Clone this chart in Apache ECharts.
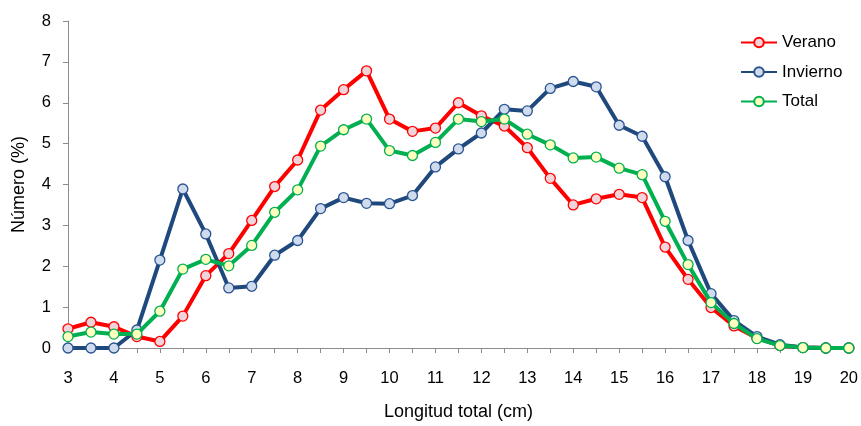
<!DOCTYPE html>
<html>
<head>
<meta charset="utf-8">
<script src="https://cdn.jsdelivr.net/npm/echarts@6/dist/echarts.min.js"></script>
<style>
  html, body { margin: 0; padding: 0; background: #ffffff; }
  #chart { width: 861px; height: 426px; }
</style>
</head>
<body>
<div id="chart"></div>
<script>
// Length classes (cm)
const longitudes = [3, 3.5, 4, 4.5, 5, 5.5, 6, 6.5, 7, 7.5, 8, 8.5, 9, 9.5, 10, 10.5, 11, 11.5,
  12, 12.5, 13, 13.5, 14, 14.5, 15, 15.5, 16, 16.5, 17, 17.5, 18, 18.5, 19, 19.5, 20];

// Frequency (%) per length class
const verano = [0.47, 0.63, 0.52, 0.28, 0.16, 0.78, 1.77, 2.31, 3.12, 3.95,
  4.60, 5.82, 6.32, 6.78, 5.60, 5.30, 5.38, 6.00, 5.68, 5.43,
  4.90, 4.15, 3.50, 3.65, 3.76, 3.68, 2.47, 1.68, 0.99, 0.54,
  0.24, 0.06, 0.01, 0, 0];
const invierno = [0, 0, 0, 0.44, 2.15, 3.89, 2.79, 1.47, 1.51, 2.27,
  2.63, 3.41, 3.68, 3.54, 3.53, 3.73, 4.43, 4.87, 5.26, 5.84,
  5.80, 6.35, 6.52, 6.39, 5.45, 5.18, 4.19, 2.63, 1.33, 0.67,
  0.28, 0.08, 0.01, 0, 0];
const total = [0.28, 0.39, 0.34, 0.34, 0.90, 1.93, 2.17, 2.01, 2.51, 3.32,
  3.87, 4.94, 5.34, 5.60, 4.83, 4.71, 5.03, 5.60, 5.54, 5.60,
  5.23, 4.97, 4.65, 4.67, 4.40, 4.24, 3.10, 2.04, 1.11, 0.60,
  0.23, 0.06, 0.01, 0, 0];

const seriesNames = ['Verano', 'Invierno', 'Total'];
const seriesValues = [verano, invierno, total];
const lineColors = ['#ff0000', '#1f497d', '#00b050'];
const markerFills = ['#f0d4da', '#d0dcee', '#ffffc0'];
const markerBorders = ['#ff0000', '#2a5490', '#00b050'];

const FONT = '"Liberation Sans", Arial, sans-serif';
const axisGray = '#8c8c8c';

const chart = echarts.init(document.getElementById('chart'), null, { renderer: 'canvas' });

const series = seriesNames.map((name, i) => ({
  name: name,
  type: 'line',
  data: longitudes.map((x, j) => [x, seriesValues[i][j]]),
  symbol: 'circle',
  symbolSize: 10,
  showAllSymbol: true,
  lineStyle: { color: lineColors[i], width: 4 },
  itemStyle: { color: markerFills[i], borderColor: markerBorders[i], borderWidth: 1.3 },
  emphasis: { disabled: true },
  animation: false,
  z: 2 + i
}));

chart.setOption({
  backgroundColor: '#ffffff',
  animation: false,
  grid: { left: 68, right: 11, top: 21, bottom: 74, containLabel: false },
  legend: {
    orient: 'vertical',
    left: 735,
    top: 29,
    itemWidth: 36,
    itemHeight: 12,
    itemGap: 12.5,
    textStyle: { fontFamily: FONT, fontSize: 17, color: '#000', lineHeight: 17 },
    data: seriesNames
  },
  xAxis: {
    type: 'value',
    min: 3,
    max: 20,
    interval: 0.5,
    name: 'Longitud total (cm)',
    nameLocation: 'middle',
    nameGap: 55,
    nameTextStyle: { fontFamily: FONT, fontSize: 18, color: '#000' },
    axisLine: { show: true, lineStyle: { color: axisGray, width: 1 } },
    axisTick: { show: true, length: 5, lineStyle: { color: axisGray } },
    axisLabel: {
      fontFamily: FONT, fontSize: 16.5, color: '#000', margin: 22,
      formatter: v => (Number.isInteger(v) ? String(v) : '')
    },
    splitLine: { show: false }
  },
  yAxis: {
    type: 'value',
    min: 0,
    max: 8,
    interval: 1,
    name: 'Número (%)',
    nameLocation: 'middle',
    nameGap: 40,
    nameTextStyle: { fontFamily: FONT, fontSize: 18, color: '#000' },
    axisLine: { show: true, lineStyle: { color: axisGray, width: 1 } },
    axisTick: { show: true, length: 5, lineStyle: { color: axisGray } },
    axisLabel: { fontFamily: FONT, fontSize: 16.5, color: '#000', margin: 17 },
    splitLine: { show: false }
  },
  series: series
});
</script>
</body>
</html>
